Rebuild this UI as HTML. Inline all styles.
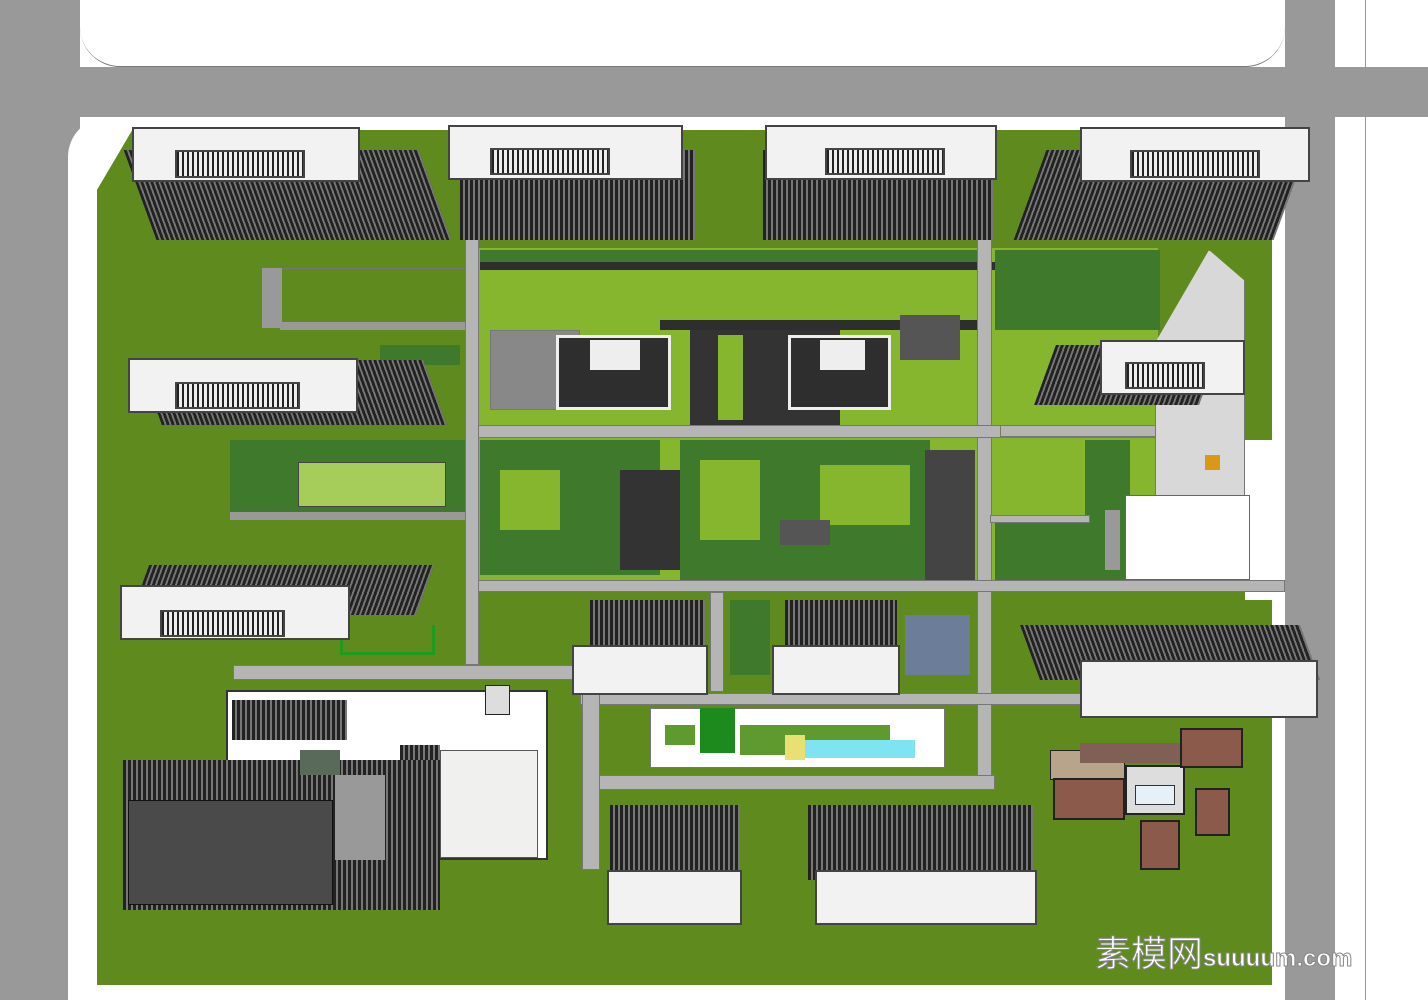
<!DOCTYPE html>
<html><head><meta charset="utf-8"><style>
body{margin:0;width:1428px;height:1000px;overflow:hidden;background:#fff;position:relative;font-family:"Liberation Sans",sans-serif}
div{position:absolute;box-sizing:border-box}
.g{background:#999}
.r{background:#b5b5b5;border:1px solid #777}
.lg{background:#86b52e}
.dg{background:#3f7a2c}
.k{background:#2e2e2e}
.w{background:#f2f2f2;border:2px solid #444}
.bd{background:repeating-linear-gradient(90deg,#222 0 3px,#777 3px 5px)}
.mg{background:#5f9a2f}
</style></head><body>
<!-- roads -->
<div class="g" style="left:0;top:0;width:80px;height:1000px"></div>
<div class="g" style="left:0;top:67px;width:1428px;height:50px"></div>
<div class="g" style="left:1285px;top:0;width:50px;height:1000px"></div>
<div style="left:80px;top:0;width:1205px;height:67px;background:#fff;border-radius:0 0 40px 40px;border-bottom:1px solid #777"></div>
<div style="left:1335px;top:0;width:93px;height:67px;background:#fff;border-radius:0 0 0 30px"></div>
<div style="left:1335px;top:117px;width:93px;height:883px;background:#fff;border-radius:30px 0 0 0"></div>
<div style="left:1365px;top:0;width:1px;height:1000px;background:#999"></div>
<div style="left:68px;top:117px;width:1217px;height:883px;background:#fff;border-radius:40px 0 0 0"></div>
<!-- green site -->
<div style="left:97px;top:130px;width:1175px;height:855px;background:#5e8a1e;clip-path:polygon(3% 0,100% 0,100% 100%,0 100%,0 7%)"></div>
<div style="left:1245px;top:440px;width:28px;height:160px;background:#fff"></div>
<!-- central landscape -->
<div class="lg" style="left:478px;top:248px;width:680px;height:335px"></div>
<div class="dg" style="left:480px;top:250px;width:500px;height:18px"></div>
<div class="k" style="left:480px;top:262px;width:680px;height:8px"></div>
<div class="k" style="left:660px;top:320px;width:320px;height:10px"></div>
<div class="k" style="left:690px;top:330px;width:150px;height:95px;background:#333"></div>
<div class="lg" style="left:718px;top:335px;width:25px;height:85px"></div>
<div class="dg" style="left:995px;top:250px;width:165px;height:80px"></div>
<div class="k" style="left:900px;top:315px;width:60px;height:45px;background:#555"></div>
<div class="r" style="left:490px;top:330px;width:90px;height:80px;background:#888"></div>
<div class="dg" style="left:480px;top:440px;width:180px;height:135px"></div>
<div class="lg" style="left:500px;top:470px;width:60px;height:60px"></div>
<div class="k" style="left:620px;top:470px;width:60px;height:100px;background:#333"></div>
<div class="dg" style="left:680px;top:440px;width:250px;height:140px"></div>
<div class="lg" style="left:700px;top:460px;width:60px;height:80px"></div>
<div class="lg" style="left:820px;top:465px;width:90px;height:60px"></div>
<div class="k" style="left:780px;top:520px;width:50px;height:25px;background:#555"></div>
<div class="k" style="left:925px;top:450px;width:50px;height:130px;background:#444"></div>
<div class="lg" style="left:1020px;top:470px;width:65px;height:40px"></div>
<div class="dg" style="left:995px;top:515px;width:120px;height:65px"></div>
<div class="lg" style="left:995px;top:340px;width:150px;height:80px"></div>
<div class="dg" style="left:1085px;top:440px;width:45px;height:140px"></div>
<div class="g" style="left:1105px;top:510px;width:15px;height:60px"></div>
<!-- left landscape -->
<div class="r" style="left:262px;top:268px;width:205px;height:60px;background:#5e8a1e"></div>
<div class="g" style="left:262px;top:268px;width:20px;height:60px"></div>
<div class="g" style="left:280px;top:322px;width:187px;height:8px"></div>
<div class="dg" style="left:230px;top:440px;width:238px;height:80px"></div>
<div style="left:298px;top:462px;width:148px;height:45px;background:#a6cc5a;border:1px solid #444"></div>
<div class="g" style="left:230px;top:512px;width:238px;height:8px"></div>
<div class="dg" style="left:380px;top:345px;width:80px;height:20px"></div>
<div style="left:340px;top:625px;width:95px;height:30px;border:3px solid #1c9b1c;border-top:none"></div>
<!-- internal roads -->
<div class="r" style="left:465px;top:180px;width:14px;height:485px"></div>
<div class="r" style="left:977px;top:140px;width:15px;height:650px"></div>
<div class="r" style="left:478px;top:425px;width:680px;height:13px"></div>
<div class="r" style="left:478px;top:580px;width:807px;height:12px"></div>
<div class="r" style="left:233px;top:665px;width:347px;height:15px"></div>
<div class="r" style="left:580px;top:693px;width:690px;height:12px"></div>
<div class="r" style="left:598px;top:775px;width:397px;height:15px"></div>
<div class="r" style="left:582px;top:690px;width:18px;height:180px"></div>
<div class="r" style="left:710px;top:592px;width:14px;height:100px"></div>
<div class="r" style="left:1000px;top:425px;width:160px;height:12px"></div>
<div class="r" style="left:990px;top:515px;width:100px;height:8px"></div>
<!-- small garden -->
<div style="left:650px;top:708px;width:295px;height:60px;background:#fff;border:1px solid #777"></div>
<div class="mg" style="left:665px;top:725px;width:30px;height:20px"></div>
<div style="left:700px;top:708px;width:35px;height:45px;background:#1c8a1c"></div>
<div class="mg" style="left:740px;top:725px;width:150px;height:30px"></div>
<div style="left:785px;top:735px;width:20px;height:25px;background:#e8e070"></div>
<div style="left:805px;top:740px;width:110px;height:18px;background:#7fe4f2"></div>
<div style="left:905px;top:615px;width:65px;height:60px;background:#6b7d99"></div>
<div class="dg" style="left:730px;top:600px;width:40px;height:75px"></div>
<!-- right plaza -->
<div style="left:1155px;top:250px;width:90px;height:310px;background:#d8d8d8;clip-path:polygon(60% 0,100% 10%,100% 100%,0 100%,0 30%,20% 20%);border:1px solid #777"></div>
<div style="left:1125px;top:495px;width:125px;height:85px;background:#fff;border:1px solid #666"></div>
<div style="left:1205px;top:455px;width:15px;height:15px;background:#d79a12"></div>
<!-- large bottom-left building -->
<div style="left:226px;top:690px;width:322px;height:170px;background:#fff;border:2px solid #333"></div>
<div class="bd" style="left:232px;top:700px;width:115px;height:40px"></div>
<div style="left:485px;top:685px;width:25px;height:30px;background:#ddd;border:1px solid #222"></div>
<div style="left:440px;top:750px;width:98px;height:108px;background:#f0f0ee;border:1px solid #555"></div>
<div class="bd" style="left:400px;top:745px;width:40px;height:115px"></div>
<div class="bd" style="left:123px;top:760px;width:317px;height:150px"></div>
<div style="left:128px;top:800px;width:205px;height:105px;background:#4a4a4a;border:1px solid #111"></div>
<div style="left:335px;top:775px;width:50px;height:85px;background:#999"></div>
<div style="left:300px;top:750px;width:40px;height:25px;background:#5a6a5a"></div>
<!-- brown building -->
<div style="left:1050px;top:750px;width:75px;height:30px;background:#b8a48a;border:1px solid #222"></div>
<div style="left:1080px;top:743px;width:100px;height:20px;background:#806055"></div>
<div style="left:1053px;top:778px;width:72px;height:42px;background:#8b5a4a;border:2px solid #222"></div>
<div style="left:1125px;top:765px;width:60px;height:50px;background:#ddd;border:2px solid #222"></div>
<div style="left:1135px;top:785px;width:40px;height:20px;background:#e6f0f8;border:1px solid #333"></div>
<div style="left:1180px;top:728px;width:63px;height:40px;background:#8b5a4a;border:2px solid #222"></div>
<div style="left:1195px;top:788px;width:35px;height:48px;background:#8b5a4a;border:2px solid #222"></div>
<div style="left:1140px;top:820px;width:40px;height:50px;background:#8b5a4a;border:2px solid #222"></div>
<!-- towers -->
<div class="bd" style="left:140px;top:150px;width:295px;height:90px;transform:skewX(20deg)"></div>
<div class="w" style="left:132px;top:127px;width:228px;height:55px"></div>
<div class="w" style="left:175px;top:150px;width:130px;height:28px;background:repeating-linear-gradient(90deg,#222 0 2px,#eee 2px 5px)"></div>
<div class="bd" style="left:460px;top:150px;width:235px;height:90px"></div>
<div class="w" style="left:448px;top:125px;width:235px;height:55px"></div>
<div class="w" style="left:490px;top:148px;width:120px;height:27px;background:repeating-linear-gradient(90deg,#222 0 2px,#eee 2px 5px)"></div>
<div class="bd" style="left:763px;top:150px;width:230px;height:90px"></div>
<div class="w" style="left:765px;top:125px;width:232px;height:55px"></div>
<div class="w" style="left:825px;top:148px;width:120px;height:27px;background:repeating-linear-gradient(90deg,#222 0 2px,#eee 2px 5px)"></div>
<div class="bd" style="left:1030px;top:150px;width:260px;height:90px;transform:skewX(-20deg)"></div>
<div class="w" style="left:1080px;top:127px;width:230px;height:55px"></div>
<div class="w" style="left:1130px;top:150px;width:130px;height:28px;background:repeating-linear-gradient(90deg,#222 0 2px,#eee 2px 5px)"></div>
<div class="bd" style="left:150px;top:360px;width:285px;height:65px;transform:skewX(20deg)"></div>
<div class="w" style="left:128px;top:358px;width:230px;height:55px"></div>
<div class="w" style="left:175px;top:382px;width:125px;height:27px;background:repeating-linear-gradient(90deg,#222 0 2px,#eee 2px 5px)"></div>
<div class="bd" style="left:1045px;top:345px;width:165px;height:60px;transform:skewX(-20deg)"></div>
<div class="w" style="left:1100px;top:340px;width:145px;height:55px"></div>
<div class="w" style="left:1125px;top:362px;width:80px;height:27px;background:repeating-linear-gradient(90deg,#222 0 2px,#eee 2px 5px)"></div>
<div class="bd" style="left:140px;top:565px;width:285px;height:50px;transform:skewX(-20deg)"></div>
<div class="w" style="left:120px;top:585px;width:230px;height:55px"></div>
<div class="w" style="left:160px;top:610px;width:125px;height:27px;background:repeating-linear-gradient(90deg,#222 0 2px,#eee 2px 5px)"></div>
<div class="bd" style="left:590px;top:600px;width:115px;height:60px"></div>
<div class="w" style="left:572px;top:645px;width:136px;height:50px"></div>
<div class="bd" style="left:785px;top:600px;width:112px;height:60px"></div>
<div class="w" style="left:772px;top:645px;width:128px;height:50px"></div>
<div class="bd" style="left:1030px;top:625px;width:280px;height:55px;transform:skewX(20deg)"></div>
<div class="w" style="left:1080px;top:660px;width:238px;height:58px"></div>
<div class="bd" style="left:610px;top:805px;width:130px;height:75px"></div>
<div class="w" style="left:607px;top:870px;width:135px;height:55px"></div>
<div class="bd" style="left:808px;top:805px;width:225px;height:75px"></div>
<div class="w" style="left:815px;top:870px;width:222px;height:55px"></div>
<!-- mid small towers -->
<div class="k" style="left:556px;top:335px;width:115px;height:75px;border:3px solid #eee"></div>
<div style="left:590px;top:340px;width:50px;height:30px;background:#eee"></div>
<div class="k" style="left:788px;top:335px;width:103px;height:75px;border:3px solid #eee"></div>
<div style="left:820px;top:340px;width:45px;height:30px;background:#eee"></div>
<!-- watermark -->
<div style="left:1095px;top:925px;font-family:'Liberation Sans','Noto Sans CJK SC',sans-serif;font-size:36px;color:#fff;-webkit-text-stroke:1px #888;white-space:nowrap">素模网<span style="font-size:24px;font-weight:bold">suuuum.com</span></div>
</body></html>
